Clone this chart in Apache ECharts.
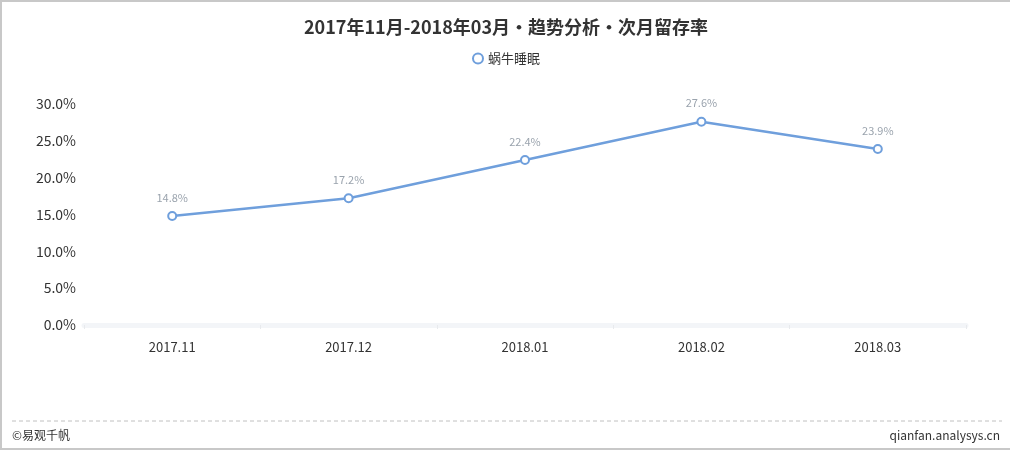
<!DOCTYPE html>
<html>
<head>
<meta charset="utf-8">
<script src="https://cdn.jsdelivr.net/npm/echarts@6/dist/echarts.min.js"></script>
<style>
  html, body { margin: 0; padding: 0; background: #fff; }
  #chart { width: 1010px; height: 450px; box-sizing: border-box; border: 2px solid #c8c8c8; border-right: none; }
</style>
</head>
<body>
<div id="chart"></div>
<script>
// Data.
var months = ['2017.11', '2017.12', '2018.01', '2018.02', '2018.03'];
var retention = [14.8, 17.2, 22.4, 27.6, 23.9];
var seriesName = '蜗牛睡眠';
var chartTitle = '2017年11月-2018年03月•趋势分析•次月留存率';

var font = '"Noto Sans CJK SC", "Microsoft YaHei", sans-serif';
var chart = echarts.init(document.getElementById('chart'), null, { renderer: 'canvas' });

var option = {
  animation: false,
  textStyle: { fontFamily: font },
  title: {
    text: chartTitle,
    left: 'center',
    top: 11,
    textStyle: { fontSize: 18, fontWeight: 'bold', color: '#333', fontFamily: font }
  },
  legend: {
    top: 45,
    left: 'center',
    icon: 'emptyCircle',
    itemWidth: 10,
    itemHeight: 10,
    itemGap: 6,
    textStyle: { fontSize: 13, color: '#333' },
    data: [seriesName]
  },
  grid: { left: 82, right: 44, top: 102, bottom: 123, containLabel: false },
  xAxis: {
    type: 'category',
    data: months,
    boundaryGap: true,
    axisLine: { lineStyle: { color: '#f3f5f8', width: 5 } },
    axisTick: { show: true, length: 4, lineStyle: { color: '#e8eaed' } },
    axisLabel: { color: '#333', fontSize: 13, margin: 16 }
  },
  yAxis: {
    type: 'value',
    min: 0,
    max: 30,
    interval: 5,
    axisLine: { show: false },
    axisTick: { show: false },
    splitLine: { show: false },
    axisLabel: {
      color: '#333',
      fontSize: 14,
      margin: 8,
      formatter: function (v) { return v.toFixed(1) + '%'; }
    }
  },
  series: [{
    name: seriesName,
    type: 'line',
    data: retention,
    symbol: 'emptyCircle',
    symbolSize: 8,
    lineStyle: { color: '#6f9fdc', width: 2.5 },
    itemStyle: { color: '#6f9fdc', borderWidth: 2 },
    label: {
      show: true,
      position: 'top',
      distance: 8,
      color: '#9aa3ad',
      fontSize: 11,
      formatter: function (p) { return p.value.toFixed(1) + '%'; }
    }
  }],
  graphic: [
    {
      type: 'line',
      shape: { x1: 10, y1: 419, x2: 1000, y2: 419 },
      style: { stroke: '#c0c0c0', lineWidth: 1, lineDash: [4, 3] }
    },
    {
      type: 'text',
      left: 10,
      top: 427,
      style: { text: '©易观千帆', fill: '#333', font: '12px ' + font }
    },
    {
      type: 'text',
      right: 10,
      top: 427,
      style: { text: 'qianfan.analysys.cn', fill: '#333', font: '12px ' + font }
    }
  ]
};

chart.setOption(option);
</script>
</body>
</html>
